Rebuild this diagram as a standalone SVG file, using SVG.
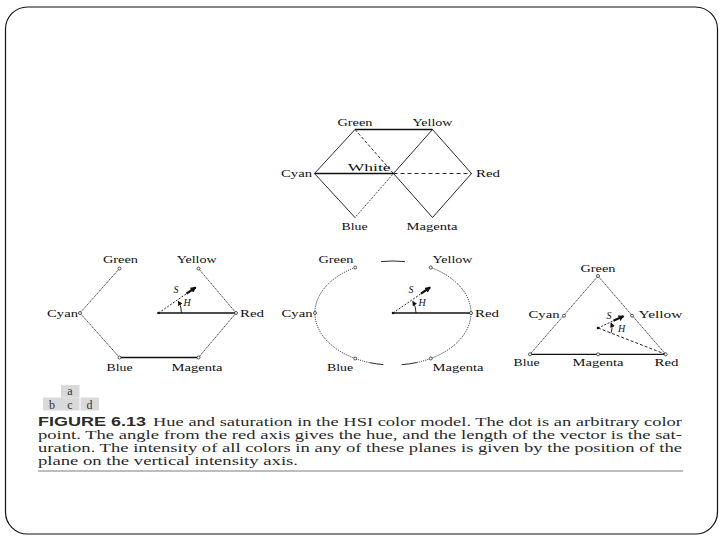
<svg xmlns="http://www.w3.org/2000/svg" width="720" height="540" viewBox="0 0 720 540">
<style>
.lbl{font-family:"Liberation Serif","Times New Roman",serif;font-size:11px;fill:#111}
.it{font-family:"Liberation Serif","Times New Roman",serif;font-size:10px;font-style:italic;fill:#111;text-anchor:middle}
.e{stroke:#111;fill:none;stroke-width:0.9}
.thick{stroke-width:1.3}
.dash{stroke-dasharray:3 2}
.dot{stroke-dasharray:1 1.2;stroke-width:1}
.fine{stroke-width:0.8;stroke-dasharray:1.4 0.7}
.vec{stroke:#111;stroke-width:2.2}
.pt{fill:#fff;stroke:#111;stroke-width:0.7}
.ctr{fill:#111}
.cap{font-family:"Liberation Serif","Times New Roman",serif;font-size:12px;fill:#2a2a2a}
.fig{font-family:"Liberation Sans",Arial,sans-serif;font-size:12px;font-weight:bold;fill:#2a2a2a}
.box{fill:#d9d9d9}
.boxt{font-family:"Liberation Serif","Times New Roman",serif;font-size:12px;fill:#333;text-anchor:middle}
</style>
<defs>
<marker id="ah" viewBox="0 0 10 10" refX="8" refY="5" markerWidth="6" markerHeight="6" markerUnits="userSpaceOnUse" orient="auto"><path d="M0,0 L10,5 L0,10 z" fill="#111"/></marker>
<marker id="ahs" viewBox="0 0 10 10" refX="8" refY="5" markerWidth="5" markerHeight="5" markerUnits="userSpaceOnUse" orient="auto"><path d="M0,0 L10,5 L0,10 z" fill="#111"/></marker>
</defs>
<rect width="720" height="540" fill="#fff"/>
<rect x="5.5" y="7" width="712" height="527" rx="22" fill="none" stroke="#111" stroke-width="1.2"/>

<!-- Panel a -->
<g id="a-edges">
<line class="e thick" x1="355" y1="129.5" x2="432.5" y2="129.5"/>
<line class="e thick" x1="314.5" y1="173.5" x2="393.5" y2="173.5"/>
<line class="e" x1="314.5" y1="173.5" x2="355" y2="129.5"/>
<line class="e" x1="314.5" y1="173.5" x2="355" y2="217.5"/>
<line class="e dash" x1="355" y1="129.5" x2="393.5" y2="173.5"/>
<line class="e dot" x1="355" y1="217.5" x2="393.5" y2="173.5"/>
<line class="e" x1="393.5" y1="173.5" x2="432.5" y2="129.5"/>
<line class="e" x1="393.5" y1="173.5" x2="432.5" y2="217.5"/>
<line class="e" x1="432.5" y1="129.5" x2="471.5" y2="173.5"/>
<line class="e" x1="432.5" y1="217.5" x2="471.5" y2="173.5"/>
<line class="e dash" x1="393.5" y1="173.5" x2="471.5" y2="173.5" style="stroke-dasharray:4 3"/>
</g>
<g id="a-green"><text class="lbl" x="337.5" y="126" textLength="35" lengthAdjust="spacingAndGlyphs">Green</text></g>
<g id="a-yellow"><text class="lbl" x="412.5" y="126" textLength="40" lengthAdjust="spacingAndGlyphs">Yellow</text></g>
<g id="a-cyan"><text class="lbl" x="281" y="177" textLength="31" lengthAdjust="spacingAndGlyphs">Cyan</text></g>
<g id="a-white"><text class="lbl" x="347.7" y="171" textLength="43" lengthAdjust="spacingAndGlyphs">White</text></g>
<g id="a-red"><text class="lbl" x="476" y="177" textLength="24" lengthAdjust="spacingAndGlyphs">Red</text></g>
<g id="a-blue"><text class="lbl" x="341.5" y="230" textLength="26" lengthAdjust="spacingAndGlyphs">Blue</text></g>
<g id="a-magenta"><text class="lbl" x="406.5" y="230" textLength="51" lengthAdjust="spacingAndGlyphs">Magenta</text></g>

<!-- Panel b -->
<g id="b-edges">
<line class="e fine" x1="80" y1="313" x2="119.5" y2="268.5"/>
<line class="e fine" x1="198.5" y1="268.5" x2="236" y2="313"/>
<line class="e fine" x1="80" y1="313" x2="119.5" y2="357.5"/>
<line class="e fine" x1="198.5" y1="357.5" x2="236" y2="313"/>
<line class="e thick" x1="119.5" y1="357.5" x2="198.5" y2="357.5"/>
<line class="e thick" x1="158.5" y1="313" x2="236" y2="313"/>
<line class="e dash" x1="158.5" y1="313" x2="186.5" y2="293.7" style="stroke-dasharray:2 1.5"/>
<line class="vec" x1="186.5" y1="293.7" x2="195.5" y2="287.5" marker-end="url(#ah)"/>
<path class="e" d="M181.5,313 A23,23 0 0 0 178.4,301.5" marker-end="url(#ahs)"/>
</g>
<g id="b-center"><circle class="ctr" cx="158.5" cy="313" r="1.3"/></g>
<g id="b-s"><text class="it" x="176" y="292.5">S</text></g>
<g id="b-h"><text class="it" x="187" y="305.5">H</text></g>
<g id="b-green"><circle class="pt" cx="119.5" cy="268.5" r="1.5"/><text class="lbl" x="103" y="263" textLength="35" lengthAdjust="spacingAndGlyphs">Green</text></g>
<g id="b-yellow"><circle class="pt" cx="198.5" cy="268.5" r="1.5"/><text class="lbl" x="176.7" y="263" textLength="40" lengthAdjust="spacingAndGlyphs">Yellow</text></g>
<g id="b-cyan"><circle class="pt" cx="80" cy="313" r="1.5"/><text class="lbl" x="47" y="316.5" textLength="31" lengthAdjust="spacingAndGlyphs">Cyan</text></g>
<g id="b-red"><circle class="pt" cx="236" cy="313" r="1.5"/><text class="lbl" x="240" y="316.5" textLength="24" lengthAdjust="spacingAndGlyphs">Red</text></g>
<g id="b-blue"><circle class="pt" cx="119.5" cy="357.5" r="1.5"/><text class="lbl" x="106.5" y="371" textLength="26" lengthAdjust="spacingAndGlyphs">Blue</text></g>
<g id="b-magenta"><circle class="pt" cx="198.5" cy="357.5" r="1.5"/><text class="lbl" x="171.5" y="371" textLength="51" lengthAdjust="spacingAndGlyphs">Magenta</text></g>

<!-- Panel c -->
<g id="c-edges">
<path class="e dot" d="M355.2,267.5 A78,52 0 0 0 369.9,362.7"/>
<path class="e dot" d="M416.7,362.5 A78,52 0 0 0 430.8,267.5"/>
<path class="e" d="M369.9,362.7 A78,52 0 0 0 383.4,364.6"/>
<path class="e" d="M401.7,364.7 A78,52 0 0 0 416.7,362.5"/>
<path class="e" d="M381.1,261.6 A78,52 0 0 1 404.9,261.6"/>
<line class="e thick" x1="393" y1="313" x2="471" y2="313"/>
<line class="e" x1="393" y1="313" x2="421" y2="293.7" style="stroke-dasharray:2 1.5"/>
<line class="vec" x1="421" y1="293.7" x2="430" y2="287.5" marker-end="url(#ah)"/>
<path class="e" d="M416,313 A23,23 0 0 0 412.9,301.5" marker-end="url(#ahs)"/>
</g>
<g id="c-center"><circle class="ctr" cx="393" cy="313" r="1.3"/></g>
<g id="c-s"><text class="it" x="411" y="292.5">S</text></g>
<g id="c-h"><text class="it" x="422" y="305.5">H</text></g>
<g id="c-green"><circle class="pt" cx="355.2" cy="267.5" r="1.5"/><text class="lbl" x="318.5" y="263" textLength="35" lengthAdjust="spacingAndGlyphs">Green</text></g>
<g id="c-yellow"><circle class="pt" cx="430.8" cy="267.5" r="1.5"/><text class="lbl" x="432.5" y="263" textLength="40" lengthAdjust="spacingAndGlyphs">Yellow</text></g>
<g id="c-cyan"><circle class="pt" cx="315" cy="313" r="1.5"/><text class="lbl" x="281.5" y="316.5" textLength="31" lengthAdjust="spacingAndGlyphs">Cyan</text></g>
<g id="c-red"><circle class="pt" cx="471" cy="313" r="1.5"/><text class="lbl" x="475" y="316.5" textLength="24" lengthAdjust="spacingAndGlyphs">Red</text></g>
<g id="c-blue"><circle class="pt" cx="355.2" cy="358.5" r="1.5"/><text class="lbl" x="327" y="371" textLength="26" lengthAdjust="spacingAndGlyphs">Blue</text></g>
<g id="c-magenta"><circle class="pt" cx="430.8" cy="358.5" r="1.5"/><text class="lbl" x="432.5" y="371" textLength="51" lengthAdjust="spacingAndGlyphs">Magenta</text></g>

<!-- Panel d -->
<g id="d-edges">
<line class="e fine" x1="598" y1="276" x2="530" y2="354.3"/>
<line class="e fine" x1="598" y1="276" x2="665.7" y2="354.3"/>
<line class="e thick" x1="530" y1="354.3" x2="665.7" y2="354.3"/>
<line class="e dash" x1="598" y1="328" x2="665.7" y2="354.3"/>
<line class="e" x1="598" y1="328" x2="613.4" y2="320.8" style="stroke-dasharray:2 1.5"/>
<line class="vec" x1="613.4" y1="320.8" x2="623.4" y2="316.2" marker-end="url(#ah)"/>
<path class="e" d="M611,333.1 A14,14 0 0 0 611.2,323.2" marker-end="url(#ahs)"/>
</g>
<g id="d-center"><circle class="ctr" cx="598" cy="328" r="1.3"/></g>
<g id="d-s"><text class="it" x="609" y="319">S</text></g>
<g id="d-h"><text class="it" x="621.5" y="331.5">H</text></g>
<g id="d-green"><circle class="pt" cx="598" cy="276" r="1.5"/><text class="lbl" x="580.5" y="272" textLength="35" lengthAdjust="spacingAndGlyphs">Green</text></g>
<g id="d-cyan"><circle class="pt" cx="564" cy="315.7" r="1.5"/><text class="lbl" x="528.5" y="317.5" textLength="31" lengthAdjust="spacingAndGlyphs">Cyan</text></g>
<g id="d-yellow"><circle class="pt" cx="632" cy="315.7" r="1.5"/><text class="lbl" x="638.5" y="317.5" textLength="44" lengthAdjust="spacingAndGlyphs">Yellow</text></g>
<g id="d-blue"><circle class="pt" cx="530" cy="354.3" r="1.5"/><text class="lbl" x="513.5" y="366" textLength="26" lengthAdjust="spacingAndGlyphs">Blue</text></g>
<g id="d-magenta"><circle class="pt" cx="598" cy="354.3" r="1.5"/><text class="lbl" x="572.5" y="366" textLength="51" lengthAdjust="spacingAndGlyphs">Magenta</text></g>
<g id="d-red"><circle class="pt" cx="665.7" cy="354.3" r="1.5"/><text class="lbl" x="654.5" y="366" textLength="24" lengthAdjust="spacingAndGlyphs">Red</text></g>

<!-- Caption -->
<g id="panel-key">
<rect class="box" x="61" y="385" width="18.5" height="12.5"/>
<rect class="box" x="43" y="397.5" width="36.5" height="13"/>
<rect class="box" x="80.5" y="397.5" width="18.5" height="13"/>
<text class="boxt" x="70" y="395">a</text>
<text class="boxt" x="52" y="408.5">b</text>
<text class="boxt" x="70" y="408.5">c</text>
<text class="boxt" x="89.5" y="408.5">d</text>
</g>
<g id="caption">
<text class="fig" x="38" y="426" textLength="108" lengthAdjust="spacingAndGlyphs">FIGURE 6.13</text>
<text class="cap" x="153" y="426" textLength="529" lengthAdjust="spacingAndGlyphs">Hue and saturation in the HSI color model. The dot is an arbitrary color</text>
<text class="cap" x="38" y="439" textLength="644" lengthAdjust="spacingAndGlyphs">point. The angle from the red axis gives the hue, and the length of the vector is the sat-</text>
<text class="cap" x="38" y="452" textLength="644" lengthAdjust="spacingAndGlyphs">uration. The intensity of all colors in any of these planes is given by the position of the</text>
<text class="cap" x="38" y="464.5" textLength="260" lengthAdjust="spacingAndGlyphs">plane on the vertical intensity axis.</text>
<line x1="38" y1="471" x2="683" y2="471" stroke="#bdbdbd" stroke-width="2"/>
</g>
</svg>
